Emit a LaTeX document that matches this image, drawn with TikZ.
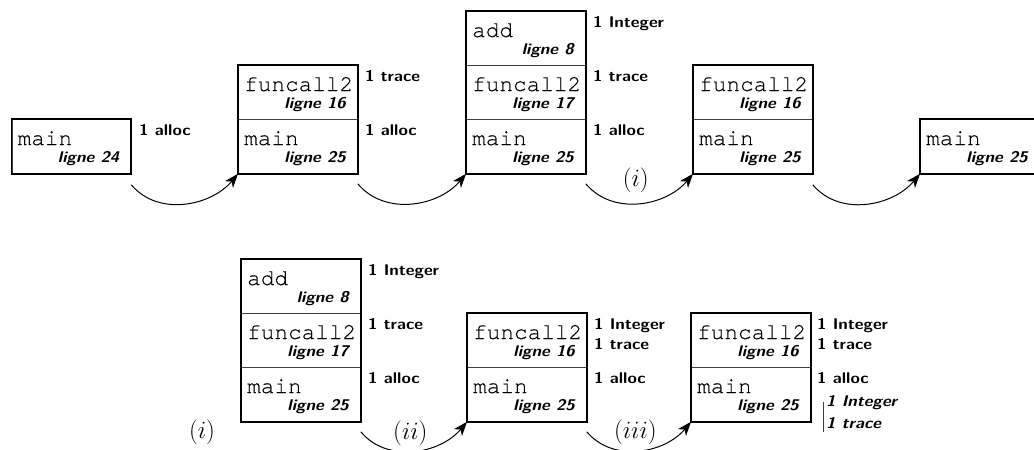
\documentclass[tikz,border=0pt]{standalone}
\usepackage{fontspec}
\newfontfamily\codefont[FakeBold=0.25]{texgyrecursor-regular.otf}
\newfontfamily\labfont[ItalicFont=lmsans10-boldoblique.otf,FakeStretch=1.1]{lmsans10-bold.otf}
\usetikzlibrary{arrows.meta}
\tikzset{
  cellbox/.style={draw=black!75, line width=0.8pt, minimum width=119pt, minimum height=54pt, inner sep=0pt, anchor=north west},
  frame/.style={draw=black, line width=1.8pt},
  fname/.style={font=\fontsize{22.7}{26}\codefont, inner sep=0pt, anchor=base west},
  lig/.style={font=\fontsize{15.5}{18}\labfont\itshape, inner sep=0pt, anchor=base east},
  lab/.style={font=\fontsize{15.5}{18}\labfont, inner sep=0pt, anchor=base west},
  ilab/.style={font=\fontsize{15.5}{18}\labfont\itshape, inner sep=0pt, anchor=base west},
  stepmark/.style={font=\fontsize{24}{28}\selectfont, inner sep=0pt},
  flow/.style={line width=1pt, -{Stealth[length=14pt,width=10.5pt,inset=4pt]}, out=-50, in=-130, looseness=1.0},
}
\newcommand\mycell[5]{%
  \node[cellbox] (#1) at (#2,-#3) {};
  \node[fname] (#1-f) at (#2+6,-#3-26) {#4};
  \node[lig] (#1-l) at (#2+108,-#3-43) {ligne #5};
}
\begin{document}
\begin{tikzpicture}[x=1pt,y=1pt]
\useasboundingbox (0,0) rectangle (1034,-450);
\clip (0,0) rectangle (1034,-450);
% top row
\mycell{a1}{11.5}{119}{main}{24}
\draw[frame] (a1.north west) rectangle (a1.south east);
\node[lab] (la1) at (139,-135) {1 alloc};

\mycell{b1}{238}{65}{funcall2}{16}
\mycell{b2}{238}{119}{main}{25}
\draw[frame] (b1.north west) rectangle (b2.south east);
\node[lab] (lb1) at (365,-81) {1 trace};
\node[lab] (lb2) at (365,-135) {1 alloc};

\mycell{c1}{466}{11}{add}{8}
\mycell{c2}{466}{65}{funcall2}{17}
\mycell{c3}{466}{119}{main}{25}
\draw[frame] (c1.north west) rectangle (c3.south east);
\node[lab] (lc1) at (593,-27) {1 Integer};
\node[lab] (lc2) at (593,-81) {1 trace};
\node[lab] (lc3) at (593,-135) {1 alloc};

\mycell{d1}{693}{65}{funcall2}{16}
\mycell{d2}{693}{119}{main}{25}
\draw[frame] (d1.north west) rectangle (d2.south east);

\mycell{e1}{920}{119}{main}{25}
\draw[frame] (e1.north west) rectangle (e1.south east);

% bottom row
\mycell{f1}{241}{259}{add}{8}
\mycell{f2}{241}{313}{funcall2}{17}
\mycell{f3}{241}{367}{main}{25}
\draw[frame] (f1.north west) rectangle (f3.south east);
\node[lab] (lf1) at (368,-275) {1 Integer};
\node[lab] (lf2) at (368,-329) {1 trace};
\node[lab] (lf3) at (368,-383) {1 alloc};

\mycell{g1}{467}{313}{funcall2}{16}
\mycell{g2}{467}{367}{main}{25}
\draw[frame] (g1.north west) rectangle (g2.south east);
\node[lab] (lg1) at (594,-329) {1 Integer};
\node[lab] (lg2) at (594,-349) {1 trace};
\node[lab] (lg3) at (594,-383) {1 alloc};

\mycell{h1}{691}{313}{funcall2}{16}
\mycell{h2}{691}{367}{main}{25}
\draw[frame] (h1.north west) rectangle (h2.south east);
\node[lab] (lh1) at (817,-329) {1 Integer};
\node[lab] (lh2) at (817,-349) {1 trace};
\node[lab] (lh3) at (817,-383) {1 alloc};
\node[ilab] (lh4) at (826,-406) {1 Integer};
\node[ilab] (lh5) at (826,-428) {1 trace};
\coordinate (bartop) at (823,-402);
\coordinate (barbot) at (823,-432);
\draw[line width=0.8pt, black!75] (bartop) -- (barbot);

% connectors
\draw[flow] ([yshift=-11pt]a1.south east) to (b2.south west);
\draw[flow] ([yshift=-10pt]b2.south east) to (c3.south west);
\draw[flow] ([yshift=-10pt]c3.south east) to node[stepmark, pos=0.47, yshift=23pt] {$(i)$} (d2.south west);
\draw[flow] ([yshift=-11pt]d2.south east) to (e1.south west);
\draw[flow] ([yshift=-10pt]f3.south east) to node[stepmark, pos=0.47, yshift=18pt] {$(ii)$} (g2.south west);
\draw[flow] ([yshift=-10pt]g2.south east) to node[stepmark, pos=0.47, yshift=18pt] {$(iii)$} (h2.south west);
\node[stepmark] (solo) at (202,-432) {$(i)$};
\end{tikzpicture}
\end{document}
